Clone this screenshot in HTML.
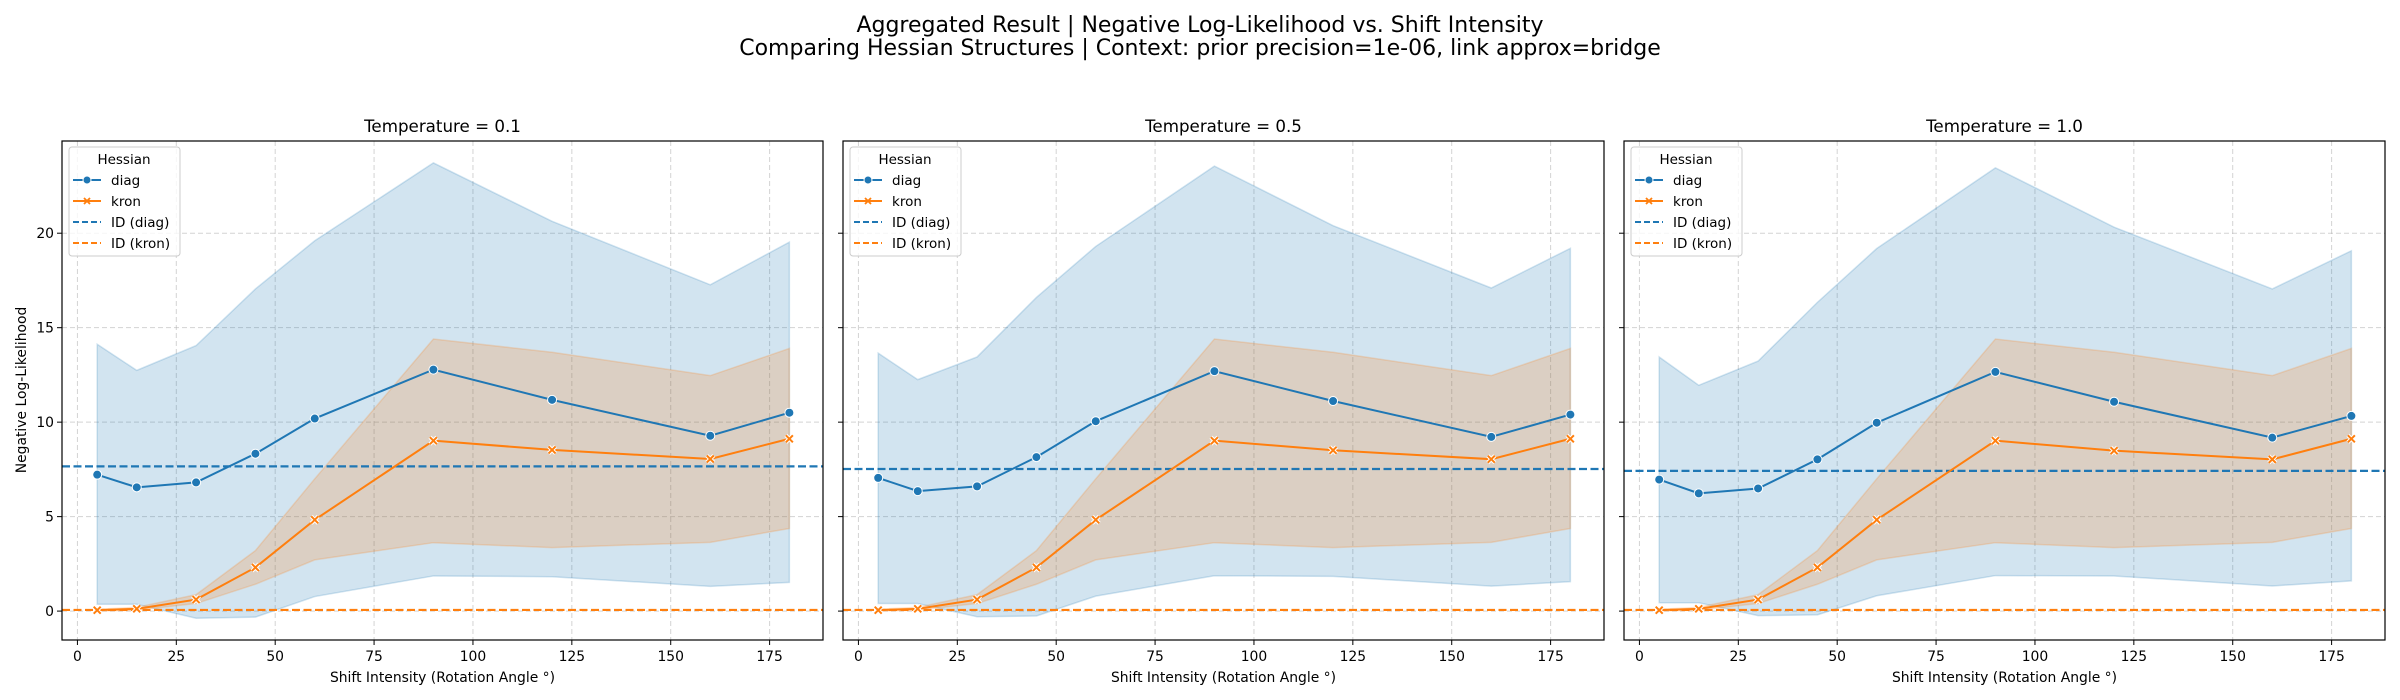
<!DOCTYPE html>
<html><head><meta charset="utf-8">
<style>
html,body{margin:0;padding:0;background:#fff;}
svg{display:block;font-family:"DejaVu Sans","Liberation Sans",sans-serif;}
</style></head>
<body>
<svg id="chart" width="2400" height="700" viewBox="0 0 2400 700" xmlns="http://www.w3.org/2000/svg">
<rect width="2400" height="700" fill="#fff"/>
<text x="1200" y="32" font-size="22" text-anchor="middle" fill="#000">Aggregated Result | Negative Log-Likelihood vs. Shift Intensity</text>
<text x="1200" y="55" font-size="22" text-anchor="middle" fill="#000">Comparing Hessian Structures | Context: prior precision=1e-06, link approx=bridge</text>
</svg>
<script>
const shifts = [5, 15, 30, 45, 60, 90, 120, 160, 180];
const temperatures = ["0.1", "0.5", "1.0"];
const diagMean = [
  [7.22, 6.55, 6.81, 8.33, 10.19, 12.78, 11.18, 9.28, 10.50],
  [7.05, 6.35, 6.60, 8.15, 10.05, 12.70, 11.12, 9.22, 10.40],
  [6.96, 6.23, 6.49, 8.03, 9.97, 12.66, 11.08, 9.18, 10.33]
];
const diagUpper = [
  [14.12, 12.74, 14.05, 17.05, 19.6, 23.72, 20.63, 17.27, 19.53],
  [13.65, 12.25, 13.45, 16.6, 19.3, 23.55, 20.4, 17.1, 19.2],
  [13.45, 11.95, 13.23, 16.34, 19.19, 23.46, 20.32, 17.05, 19.07]
];
const diagLower = [
  [0.36, 0.36, -0.38, -0.32, 0.77, 1.86, 1.82, 1.31, 1.52],
  [0.40, 0.40, -0.30, -0.26, 0.79, 1.87, 1.84, 1.32, 1.56],
  [0.44, 0.44, -0.24, -0.20, 0.81, 1.88, 1.86, 1.33, 1.60]
];
const kronMean = [
  [0.05, 0.12, 0.61, 2.31, 4.83, 9.02, 8.53, 8.05, 9.12],
  [0.05, 0.12, 0.61, 2.31, 4.83, 9.02, 8.51, 8.04, 9.12],
  [0.05, 0.12, 0.61, 2.31, 4.83, 9.02, 8.49, 8.03, 9.12]
];
const kronUpper = [
  [0.1, 0.2, 0.87, 3.2, 7.0, 14.4, 13.7, 12.46, 13.9],
  [0.1, 0.2, 0.87, 3.2, 7.0, 14.4, 13.7, 12.46, 13.9],
  [0.1, 0.2, 0.87, 3.2, 7.0, 14.4, 13.7, 12.46, 13.9]
];
const kronLower = [
  [0.0, 0.05, 0.4, 1.42, 2.71, 3.62, 3.36, 3.64, 4.37],
  [0.0, 0.05, 0.4, 1.42, 2.71, 3.62, 3.36, 3.64, 4.37],
  [0.0, 0.05, 0.4, 1.42, 2.71, 3.62, 3.36, 3.64, 4.37]
];
const idDiag = [7.66, 7.52, 7.42];
const idKron = [0.06, 0.06, 0.06];
const xTicks = [0, 25, 50, 75, 100, 125, 150, 175];
const yTicks = [0, 5, 10, 15, 20];

const svg = document.getElementById('chart');
const NS = 'http://www.w3.org/2000/svg';
const BLUE = '#1f77b4', ORANGE = '#ff7f0e';
function mk(tag, attrs, parent) {
  const e = document.createElementNS(NS, tag);
  for (const k in attrs) e.setAttribute(k, attrs[k]);
  (parent || svg).appendChild(e);
  return e;
}
const PANEL_W = 761, TOP = 141, BOT = 640;
const panelLefts = [62, 843, 1624];
const XMIN = -3.9, XMAX = 188.5, YMIN = -1.53, YMAX = 24.88;

panelLefts.forEach((L, p) => {
  const R = L + PANEL_W;
  const xs = v => L + (v - XMIN) / (XMAX - XMIN) * PANEL_W;
  const ys = v => BOT - (v - YMIN) / (YMAX - YMIN) * (BOT - TOP);
  const g = mk('g', {});
  
  
  const clipId = 'clip' + p;
  const cp = mk('clipPath', { id: clipId }, g);
  mk('rect', { x: L, y: TOP, width: PANEL_W, height: BOT - TOP }, cp);

  xTicks.forEach(t => {
    const gl = mk('line', { x1: xs(t), x2: xs(t), y1: TOP, y2: BOT, stroke: '#b0b0b0', 'stroke-width': 1, 'stroke-dasharray': '5,3', opacity: 0.55 }, g);
    
    
    mk('line', { x1: xs(t), x2: xs(t), y1: BOT, y2: BOT + 5, stroke: '#000', 'stroke-width': 1 }, g);
    const tl = mk('text', { x: xs(t), y: BOT + 21, 'font-size': 13.9, 'text-anchor': 'middle', fill: '#000' }, g);
    tl.textContent = t;
    
    
  });
  yTicks.forEach(t => {
    const gl = mk('line', { x1: L, x2: R, y1: ys(t), y2: ys(t), stroke: '#b0b0b0', 'stroke-width': 1, 'stroke-dasharray': '5,3', opacity: 0.55 }, g);
    
    
    mk('line', { x1: L - 5, x2: L, y1: ys(t), y2: ys(t), stroke: '#000', 'stroke-width': 1 }, g);
    if (p === 0) {
      const tl = mk('text', { x: L - 8, y: ys(t) + 5, 'font-size': 13.9, 'text-anchor': 'end', fill: '#000' }, g);
      tl.textContent = t;
      
      
    }
  });

  const cg = mk('g', { 'clip-path': 'url(#' + clipId + ')' }, g);
  function band(up, lo, color, name) {
    let d = '';
    shifts.forEach((s, i) => { d += (i ? 'L' : 'M') + xs(s) + ',' + ys(up[i]); });
    for (let i = shifts.length - 1; i >= 0; i--) d += 'L' + xs(shifts[i]) + ',' + ys(lo[i]);
    const b = mk('path', { d: d + 'Z', fill: color, 'fill-opacity': 0.2, stroke: color, 'stroke-opacity': 0.2, 'stroke-width': 1.5 }, cg);
    
    
  }
  band(diagUpper[p], diagLower[p], BLUE, 'diag-ci-band');
  band(kronUpper[p], kronLower[p], ORANGE, 'kron-ci-band');

  const l1 = mk('line', { x1: L, x2: R, y1: ys(idDiag[p]), y2: ys(idDiag[p]), stroke: BLUE, 'stroke-width': 2.2, 'stroke-dasharray': '8,3.5' }, cg);
  
  
  const l2 = mk('line', { x1: L, x2: R, y1: ys(idKron[p]), y2: ys(idKron[p]), stroke: ORANGE, 'stroke-width': 2.2, 'stroke-dasharray': '8,3.5' }, cg);
  
  

  function series(vals, color, name, marker) {
    const pts = shifts.map((s, i) => xs(s) + ',' + ys(vals[i])).join(' ');
    const pl = mk('polyline', { points: pts, fill: 'none', stroke: color, 'stroke-width': 2 }, cg);
    
    
    shifts.forEach((s, i) => {
      const cx = xs(s), cy = ys(vals[i]);
      if (marker === 'o') {
        const c = mk('circle', { cx: cx, cy: cy, r: 4.5, fill: color, stroke: '#fff', 'stroke-width': 1 }, cg);
        
        
      } else {
        const m = mk('path', { d: `M${cx-3.5},${cy-3.5}L${cx+3.5},${cy+3.5}M${cx+3.5},${cy-3.5}L${cx-3.5},${cy+3.5}`, stroke: '#fff', 'stroke-width': 4 }, cg);
        
        
        const m2 = mk('path', { d: `M${cx-3.5},${cy-3.5}L${cx+3.5},${cy+3.5}M${cx+3.5},${cy-3.5}L${cx-3.5},${cy+3.5}`, stroke: color, 'stroke-width': 2 }, cg);
        
        
      }
    });
  }
  series(diagMean[p], BLUE, 'diag', 'o');
  series(kronMean[p], ORANGE, 'kron', 'x');

  const frame = mk('rect', { x: L, y: TOP, width: PANEL_W, height: BOT - TOP, fill: 'none', stroke: '#000', 'stroke-width': 1.2 }, g);
  
  

  const pt = mk('text', { x: L + PANEL_W / 2, y: 132, 'font-size': 16.7, 'text-anchor': 'middle', fill: '#000' }, g);
  pt.textContent = 'Temperature = ' + temperatures[p];
  
  

  const xl = mk('text', { x: L + PANEL_W / 2, y: 682, 'font-size': 13.9, 'text-anchor': 'middle', fill: '#000' }, g);
  xl.textContent = 'Shift Intensity (Rotation Angle °)';
  
  

  const lg = mk('g', {}, g);
  
  
  const lx = L + 7, ly = 147;
  mk('rect', { x: lx, y: ly, width: 111, height: 109, rx: 3, fill: '#fff', 'fill-opacity': 0.8, stroke: '#ccc', 'stroke-width': 1 }, lg);
  const lt = mk('text', { x: lx + 55, y: ly + 17, 'font-size': 13.5, 'text-anchor': 'middle', fill: '#000' }, lg);
  lt.textContent = 'Hessian';
  
  
  const entries = [['diag', BLUE, 'o'], ['kron', ORANGE, 'x'], ['ID (diag)', BLUE, 'd'], ['ID (kron)', ORANGE, 'd']];
  entries.forEach((en, i) => {
    const ey = ly + 33 + i * 21;
    const eg = mk('g', {}, lg);
    
    
    mk('line', { x1: lx + 4, x2: lx + 32, y1: ey, y2: ey, stroke: en[1], 'stroke-width': 2, 'stroke-dasharray': en[2] === 'd' ? '6,3' : 'none' }, eg);
    if (en[2] === 'o') mk('circle', { cx: lx + 18, cy: ey, r: 4, fill: en[1], stroke: '#fff', 'stroke-width': 1 }, eg);
    if (en[2] === 'x') mk('path', { d: `M${lx+15},${ey-3}L${lx+21},${ey+3}M${lx+21},${ey-3}L${lx+15},${ey+3}`, stroke: en[1], 'stroke-width': 1.8 }, eg);
    const et = mk('text', { x: lx + 42, y: ey + 5, 'font-size': 13.5, fill: '#000' }, eg);
    et.textContent = en[0];
  });
});

const yl = mk('text', { x: 0, y: 0, 'font-size': 13.9, 'text-anchor': 'middle', fill: '#000', transform: 'translate(26,390) rotate(-90)' });
yl.textContent = 'Negative Log-Likelihood';


</script>
</body></html>
